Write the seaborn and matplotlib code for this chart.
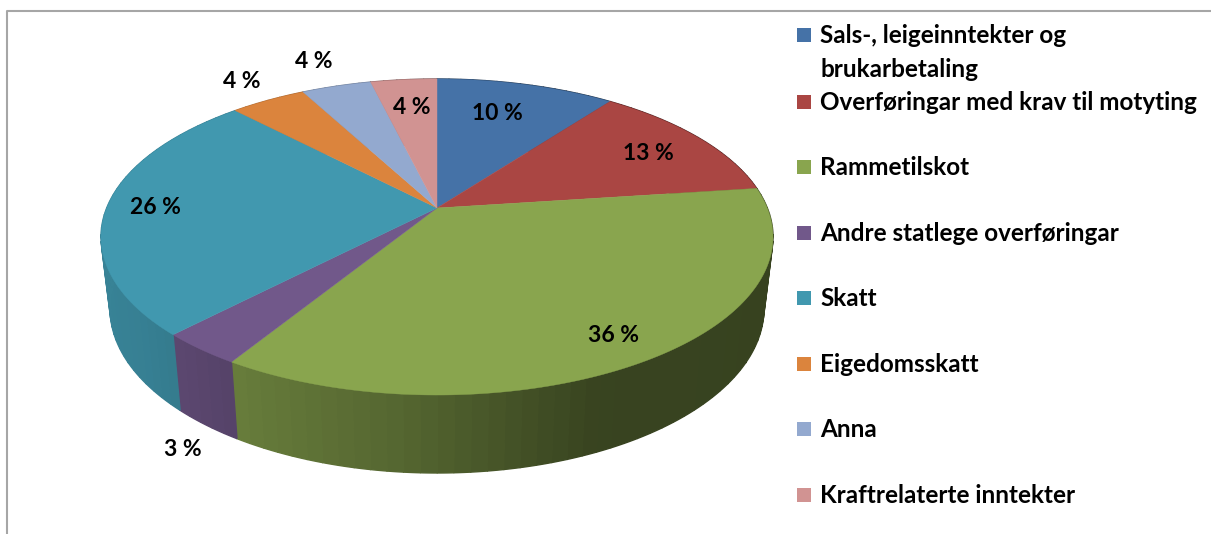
import numpy as np
import matplotlib
matplotlib.use('Agg')
import matplotlib.pyplot as plt
import seaborn as sns

labels = ['Sals-, leigeinntekter og\nbrukarbetaling', 'Overføringar med krav til motyting', 'Rammetilskot',
          'Andre statlege overføringar', 'Skatt', 'Eigedomsskatt', 'Anna', 'Kraftrelaterte inntekter']
values = [10.25, 12.65, 35.9, 3.4, 25.65, 4.35, 4.0, 3.8]
colors = ['#4572a7', '#aa4643', '#89a54e', '#71588a', '#4198af', '#db843d', '#93a9cf', '#d19392']

# where the labels sit, in pixels of the picture
label_xy = [(497, 113), (648, 154), (614, 336), (183, 449), (155, 208), (242, 81), (314, 61), (412, 108)]
legend_y = [35, 102, 167, 233, 298, 364, 429, 495]

sns.set_theme(style='white')
plt.rcParams['font.family'] = ['Lato', 'DejaVu Sans']
palette = sns.color_palette(colors)

W, H = 1211, 534
fig = plt.figure(figsize=(W / 100, H / 100), dpi=100)
ax = fig.add_axes([0, 0, 1, 1])
ax.set_xlim(0, W)
ax.set_ylim(H, 0)
ax.axis('off')

# perspective of the tilted disc
cx, cy = 437, 208
k, a, b = 0.1835, 152.7, 330.3
lower_sx, lower_sy, depth = 0.973, 1.04, 70.5


def project(t):
    u, v = np.sin(t), -np.cos(t)
    s = 1 / (1 - k * v)
    return b * u * s, a * v * s


shade_u = [-1, -0.8, -0.6, -0.1, 0.4, 1]
shade_f = [0.86, 0.84, 0.78, 0.62, 0.41, 0.40]

edges = np.cumsum([0] + values) / sum(values) * 2 * np.pi

# rim first, top of the disc over it
for i, col in enumerate(palette):
    n = max(int(values[i] * 1.5), 3)
    ts = np.linspace(edges[i], edges[i + 1], n + 1)
    for t0, t1 in zip(ts[:-1], ts[1:]):
        tt = np.linspace(t0, t1, 6)
        x, y = project(tt)
        lx, ly = x * lower_sx, y * lower_sy + depth
        f = np.interp(np.sin((t0 + t1) / 2), shade_u, shade_f)
        c = tuple(np.array(col) * f)
        ax.fill(cx + np.r_[x, lx[::-1]], cy + np.r_[y, ly[::-1]], color=c, lw=1)

for i, col in enumerate(palette):
    ts = np.linspace(edges[i], edges[i + 1], 120)
    x, y = project(ts)
    ax.fill(cx + np.r_[0, x], cy + np.r_[0, y], color=col, lw=0.3)

for v, (x, y) in zip(values, label_xy):
    ax.text(x, y, f'{v:.0f} %', ha='center', va='center', fontsize=16.5, fontweight='bold', color='black')

ax.scatter([804] * len(labels), legend_y, marker='s', s=100, c=colors, linewidths=0)
for lab, y in zip(labels, legend_y):
    ax.text(820, y - 11, lab, ha='left', va='top', fontsize=17.5, fontweight='bold', color='black', linespacing=1.56)

# chart frame, cut off right and below
ax.plot([7, 7, W], [H, 11, 11], color='#a6a6a6', lw=1.5, clip_on=False)

fig.savefig('out.png', dpi=100)
